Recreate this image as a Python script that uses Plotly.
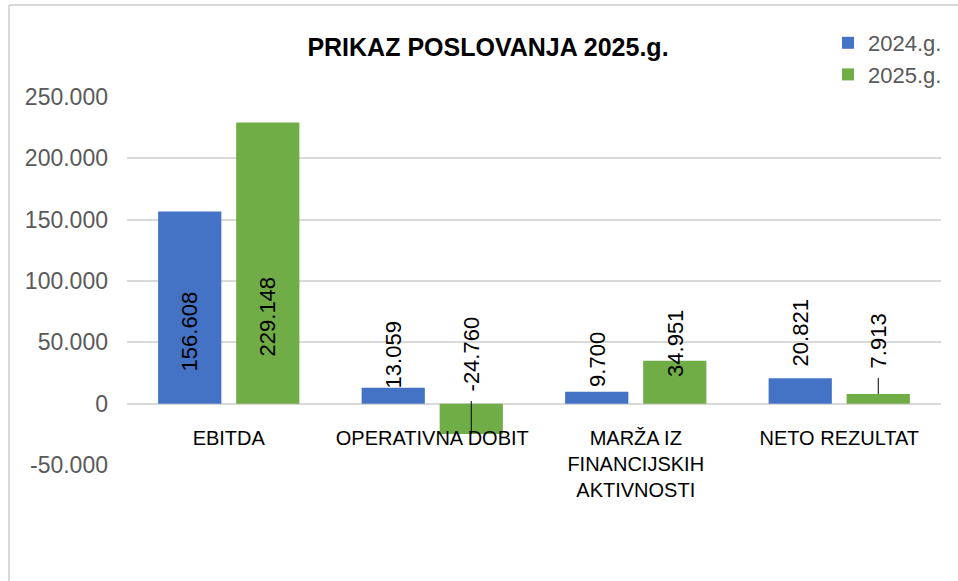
import plotly.graph_objects as go

categories = ["EBITDA", "OPERATIVNA DOBIT", "MARŽA IZ<br>FINANCIJSKIH<br>AKTIVNOSTI", "NETO REZULTAT"]
series_names = ["2024.g.", "2025.g."]
values_2024 = [156608, 13059, 9700, 20821]
values_2025 = [229148, -24760, 34951, 7913]
label_texts_2024 = ["156.608", "13.059", "9.700", "20.821"]
label_texts_2025 = ["229.148", "-24.760", "34.951", "7.913"]
y_ticks = [-50000, 0, 50000, 100000, 150000, 200000, 250000]
y_tick_labels = ["-50.000", "0", "50.000", "100.000", "150.000", "200.000", "250.000"]

# label placement (pixel lift of label bottom above the zero line)
label_lift_2024 = [30, 13, 15, 35]
label_lift_2025 = [45, 10, 25, 33]

BLUE = "#4472C4"
GREEN = "#70AD47"
FONT = "Liberation Sans"

W, H = 958, 581
L, R, T, B = 127, 17, 97, 116
BARGAP = 0.233
BARGROUPGAP = 0.19
off = (1 - BARGAP) / 4  # centre offset of each bar within its category

fig = go.Figure()
fig.add_bar(x=categories, y=values_2024, name=series_names[0], marker_color=BLUE,
            marker_line_width=0)
fig.add_bar(x=categories, y=values_2025, name=series_names[1], marker_color=GREEN,
            marker_line_width=0)

ann = []
for i in range(len(categories)):
    for vals, texts, lifts, sgn in ((values_2024, label_texts_2024, label_lift_2024, -1),
                                    (values_2025, label_texts_2025, label_lift_2025, 1)):
        ann.append(dict(x=i + sgn * off, y=0, xref="x", yref="y", text=texts[i],
                        textangle=-90, showarrow=False, xanchor="center", yanchor="bottom",
                        yshift=lifts[i], font=dict(family=FONT, size=22, color="#000000")))

shapes = []
# leader lines for moved labels
for i, v in enumerate(values_2025):
    if v < 0:
        shapes.append(dict(type="line", xref="x", yref="y", x0=i + off, x1=i + off,
                           ysizemode="pixel", yanchor=v, y0=0, y1=33,
                           line=dict(color="#000000", width=1)))
    elif i == 3:
        shapes.append(dict(type="line", xref="x", yref="y", x0=i + off, x1=i + off,
                           ysizemode="pixel", yanchor=v, y0=0, y1=16,
                           line=dict(color="#000000", width=1)))

pw, ph = W - L - R, H - T - B
# chart border (top and left edges)
shapes.append(dict(type="line", xref="paper", yref="paper",
                   x0=(9 - L) / pw, x1=(W + 5 - L) / pw,
                   y0=(H - B - 5) / ph, y1=(H - B - 5) / ph,
                   line=dict(color="#D9D9D9", width=2)))
shapes.append(dict(type="line", xref="paper", yref="paper",
                   x0=(9 - L) / pw, x1=(9 - L) / pw,
                   y0=(H - B - 5) / ph, y1=-(B + 5) / ph,
                   line=dict(color="#D9D9D9", width=2)))

fig.update_layout(
    width=W, height=H,
    margin=dict(l=L, r=R, t=T, b=B, autoexpand=False),
    paper_bgcolor="white", plot_bgcolor="white",
    barmode="group", bargap=BARGAP, bargroupgap=BARGROUPGAP,
    separators=",.",
    title=dict(text="<b>PRIKAZ POSLOVANJA 2025.g.</b>", xref="paper", x=(488 - L) / pw,
               xanchor="center", yref="container", y=1 - 47 / H, yanchor="middle",
               font=dict(family=FONT, size=25, color="#000000")),
    font=dict(family=FONT),
    legend=dict(xref="container", yref="container", x=828 / W, y=1 - 22 / H,
                xanchor="left", yanchor="top",
                font=dict(family=FONT, size=22, color="#595959"),
                bgcolor="rgba(0,0,0,0)", itemclick=False),
    xaxis=dict(anchor="free", position=1 / 6, showline=False, ticks="",
               showgrid=False, ticklabelstandoff=20, automargin=False,
               tickfont=dict(family=FONT, size=20, color="#000000")),
    yaxis=dict(range=[-50000, 250000], tickvals=y_ticks, ticktext=y_tick_labels,
               showgrid=True, gridcolor="#D9D9D9", gridwidth=2,
               zeroline=True, zerolinecolor="#D9D9D9", zerolinewidth=2,
               showline=False, ticks="", ticklabelstandoff=18, automargin=False,
               tickfont=dict(family=FONT, size=23, color="#595959")),
    annotations=ann,
    shapes=shapes,
)

fig.write_html("out.html", config={"displayModeBar": False},
               post_script="document.body.style.margin='0';")
